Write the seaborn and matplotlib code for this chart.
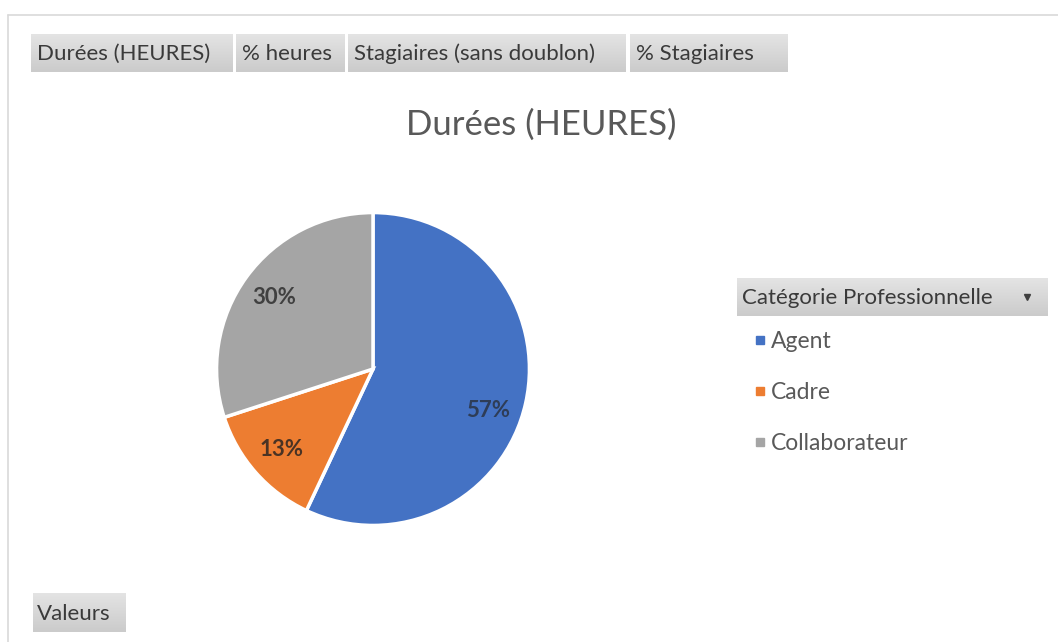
import matplotlib
matplotlib.use("Agg")
import matplotlib.pyplot as plt
from matplotlib.lines import Line2D
from matplotlib.colors import LinearSegmentedColormap
import numpy as np
import seaborn as sns

# data
categories = ["Agent", "Cadre", "Collaborateur"]
shares = [57, 13, 30]
colors = ["#4472C4", "#ED7D31", "#A5A5A5"]
label_colors = ["#2e3d57", "#4a3324", "#404040"]
field_buttons = ["Durées (HEURES)", "% heures", "Stagiaires (sans doublon)", "% Stagiaires"]
chart_title = "Durées (HEURES)"
legend_title = "Catégorie Professionnelle"

sns.set_theme(style="white")
plt.rcParams["font.family"] = ["Lato", "DejaVu Sans"]

W, H = 1058, 642
fig = plt.figure(figsize=(W / 100, H / 100), dpi=100)
fig.patch.set_facecolor("white")

grad = LinearSegmentedColormap.from_list("btn", ["#e4e4e4", "#cbcbcb"])


def fx(px):
    return px / W


def fy(py):
    return 1 - py / H


def button(x0, y0, x1, y1, label, size=16, pad=8):
    bax = fig.add_axes([fx(x0), fy(y1), fx(x1 - x0), (y1 - y0) / H])
    bax.imshow(np.linspace(0, 1, 50).reshape(-1, 1), aspect="auto", cmap=grad,
               extent=(0, 1, 0, 1), origin="upper")
    bax.axis("off")
    fig.text(fx(x0 + pad), fy((y0 + y1) / 2 + 1), label, ha="left", va="center",
             fontsize=size, color="#3a3a3a")


# chart area frame
fig.add_artist(Line2D([fx(8), fx(W)], [fy(15), fy(15)], transform=fig.transFigure,
                      color="#d9d9d9", lw=1.2))
fig.add_artist(Line2D([fx(8), fx(8)], [fy(15), fy(H)], transform=fig.transFigure,
                      color="#d9d9d9", lw=1.2))

# field buttons along the top
btn_x = [(31, 233), (236, 345), (348, 626), (630, 788)]
for (a, b), lab in zip(btn_x, field_buttons):
    button(a, 34, b, 72, lab, pad=6)

button(33, 593, 126, 632, "Valeurs", pad=4)

# title
fig.text(fx(541), fy(125), chart_title, ha="center", va="center",
         fontsize=25, color="#595959")

# pie
cx, cy, r = 373, 369, 158
ax = fig.add_axes([fx(cx - r), fy(cy + r), fx(2 * r), 2 * r / H])
wedges, texts, autotexts = ax.pie(
    shares, colors=colors, startangle=90, counterclock=False,
    autopct="%1.0f%%", pctdistance=0.78,
    wedgeprops=dict(edgecolor="white", linewidth=2.5),
    textprops=dict(fontsize=16, fontweight="bold"))
for t, c in zip(autotexts, label_colors):
    t.set_color(c)
# Excel's best-fit puts the big slice label a bit lower than the mid angle
ang = np.deg2rad(-20)
autotexts[0].set_position((0.78 * np.cos(ang), 0.78 * np.sin(ang)))
ax.set_xlim(-1.01, 1.01)
ax.set_ylim(-1.01, 1.01)
ax.set_aspect("equal")
ax.axis("off")

# legend header button with dropdown arrow
button(737, 278, 1048, 316, legend_title, pad=5)
fig.add_artist(Line2D([fx(1027)], [fy(297)], transform=fig.transFigure,
                      marker="v", markersize=4, color="#404040", lw=0))

handles = [Line2D([], [], marker="s", markersize=6, lw=0, color=c) for c in colors]
leg = fig.legend(handles, categories, loc="upper left",
                 bbox_to_anchor=(fx(745), fy(322)), frameon=False,
                 fontsize=16.5, labelcolor="#595959", handlelength=0.5,
                 handletextpad=0.25, labelspacing=1.3, borderaxespad=0)

fig.savefig("out.png", dpi=100, facecolor="white")
